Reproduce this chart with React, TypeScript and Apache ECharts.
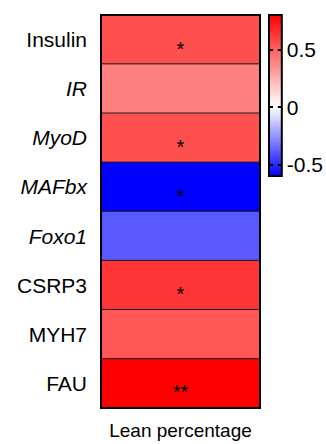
import React, { useEffect, useRef } from "react";
import * as echarts from "echarts";

const genes = ["Insulin", "IR", "MyoD", "MAFbx", "Foxo1", "CSRP3", "MYH7", "FAU"];
const italicGenes = ["IR", "MyoD", "MAFbx", "Foxo1"];
const correlations = [0.55, 0.4, 0.55, -0.6, -0.39, 0.63, 0.53, 0.8];
const significance = ["*", "", "*", "*", "", "*", "", "**"];
const columnLabel = ["Lean percentage"];
const scaleMin = -0.6;
const scaleMax = 0.8;
const colorbarTicks = [-0.5, 0, 0.5];

const FONT = "Liberation Sans, Arial, sans-serif";

export default function App() {
  const ref = useRef<HTMLDivElement>(null);
  useEffect(() => {
    if (!ref.current) return;
    const chart = echarts.init(ref.current, null, { renderer: "svg" });
    const whiteStop = (scaleMax - 0) / (scaleMax - scaleMin);
    const option: any = {
      animation: false,
      textStyle: { fontFamily: FONT },
      grid: [
        { left: 101, right: 66, top: 15, bottom: 36 },
        { left: 269, right: 43, top: 15, bottom: 268 },
      ],
      xAxis: [
        {
          type: "category",
          gridIndex: 0,
          data: columnLabel,
          position: "bottom",
          z: 10,
          axisLine: { lineStyle: { color: "#000", width: 2 } },
          axisTick: { show: false },
          axisLabel: { fontSize: 19, color: "#000", margin: 13, fontFamily: FONT },
          splitLine: { show: false },
        },
        {
          type: "category",
          gridIndex: 0,
          data: columnLabel,
          position: "top",
          z: 10,
          axisLine: { lineStyle: { color: "#000", width: 2 } },
          axisTick: { show: false },
          axisLabel: { show: false },
        },
        { type: "value", gridIndex: 1, min: 0, max: 1, show: false },
      ],
      yAxis: [
        {
          type: "category",
          gridIndex: 0,
          data: genes,
          inverse: true,
          position: "left",
          z: 10,
          axisLine: { lineStyle: { color: "#000", width: 2 } },
          axisTick: { show: false },
          axisLabel: {
            margin: 14,
            formatter: (v: string) =>
              italicGenes.includes(v) ? `{it|${v}}` : `{n|${v}}`,
            rich: {
              n: { fontSize: 21, color: "#000", fontFamily: FONT },
              it: { fontSize: 21, color: "#000", fontStyle: "italic", fontFamily: FONT },
            },
          },
        },
        {
          type: "category",
          gridIndex: 0,
          data: genes,
          inverse: true,
          position: "right",
          z: 10,
          axisLine: { lineStyle: { color: "#000", width: 2 } },
          axisTick: { show: false },
          axisLabel: { show: false },
        },
        {
          type: "value",
          gridIndex: 1,
          min: scaleMin,
          max: scaleMax,
          position: "right",
          z: 10,
          axisLine: { show: false },
          splitLine: { show: false },
          axisTick: {
            show: true,
            length: 4,
            customValues: colorbarTicks,
            lineStyle: { color: "#000", width: 2 },
          },
          axisLabel: {
            customValues: colorbarTicks,
            fontSize: 21,
            color: "#000",
            margin: 5,
            fontFamily: FONT,
          },
        },
        {
          type: "value",
          gridIndex: 1,
          min: scaleMin,
          max: scaleMax,
          position: "right",
          z: 10,
          axisLine: { show: false },
          splitLine: { show: false },
          axisLabel: { show: false },
          axisTick: {
            show: true,
            inside: true,
            length: 4,
            customValues: colorbarTicks,
            lineStyle: { color: "#000", width: 2 },
          },
        },
      ],
      visualMap: {
        show: false,
        type: "continuous",
        seriesIndex: 0,
        min: scaleMin,
        max: scaleMax,
        inRange: {
          color: [
            "#0000ff",
            "#5555ff",
            "#aaaaff",
            "#ffffff",
            "#ffbfbf",
            "#ff8080",
            "#ff4040",
            "#ff0000",
          ],
        },
      },
      series: [
        {
          type: "heatmap",
          xAxisIndex: 0,
          yAxisIndex: 0,
          data: correlations.map((v, i) => [0, i, v]),
          itemStyle: { borderColor: "#1a1a1a", borderWidth: 1 },
          label: {
            show: true,
            formatter: (p: any) => significance[p.data[1]],
            fontSize: 20,
            color: "#000",
            offset: [0, 9],
            fontFamily: FONT,
          },
        },
        {
          type: "custom",
          xAxisIndex: 2,
          yAxisIndex: 2,
          z: 1,
          data: [[0, scaleMin, scaleMax]],
          renderItem: (params: any, api: any) => {
            const tl = api.coord([0, api.value(2)]);
            const br = api.coord([1, api.value(1)]);
            return {
              type: "rect",
              shape: { x: tl[0], y: tl[1], width: br[0] - tl[0], height: br[1] - tl[1] },
              style: {
                fill: new echarts.graphic.LinearGradient(0, 0, 0, 1, [
                  { offset: 0, color: "#ff0000" },
                  { offset: whiteStop, color: "#ffffff" },
                  { offset: 1, color: "#0000ff" },
                ]),
                stroke: "#000",
                lineWidth: 2,
              },
            };
          },
        },
      ],
    };
    chart.setOption(option);
    return () => chart.dispose();
  }, []);
  return (
    <div
      ref={ref}
      style={{ position: "absolute", left: 0, top: 0, width: 326, height: 444 }}
    />
  );
}
